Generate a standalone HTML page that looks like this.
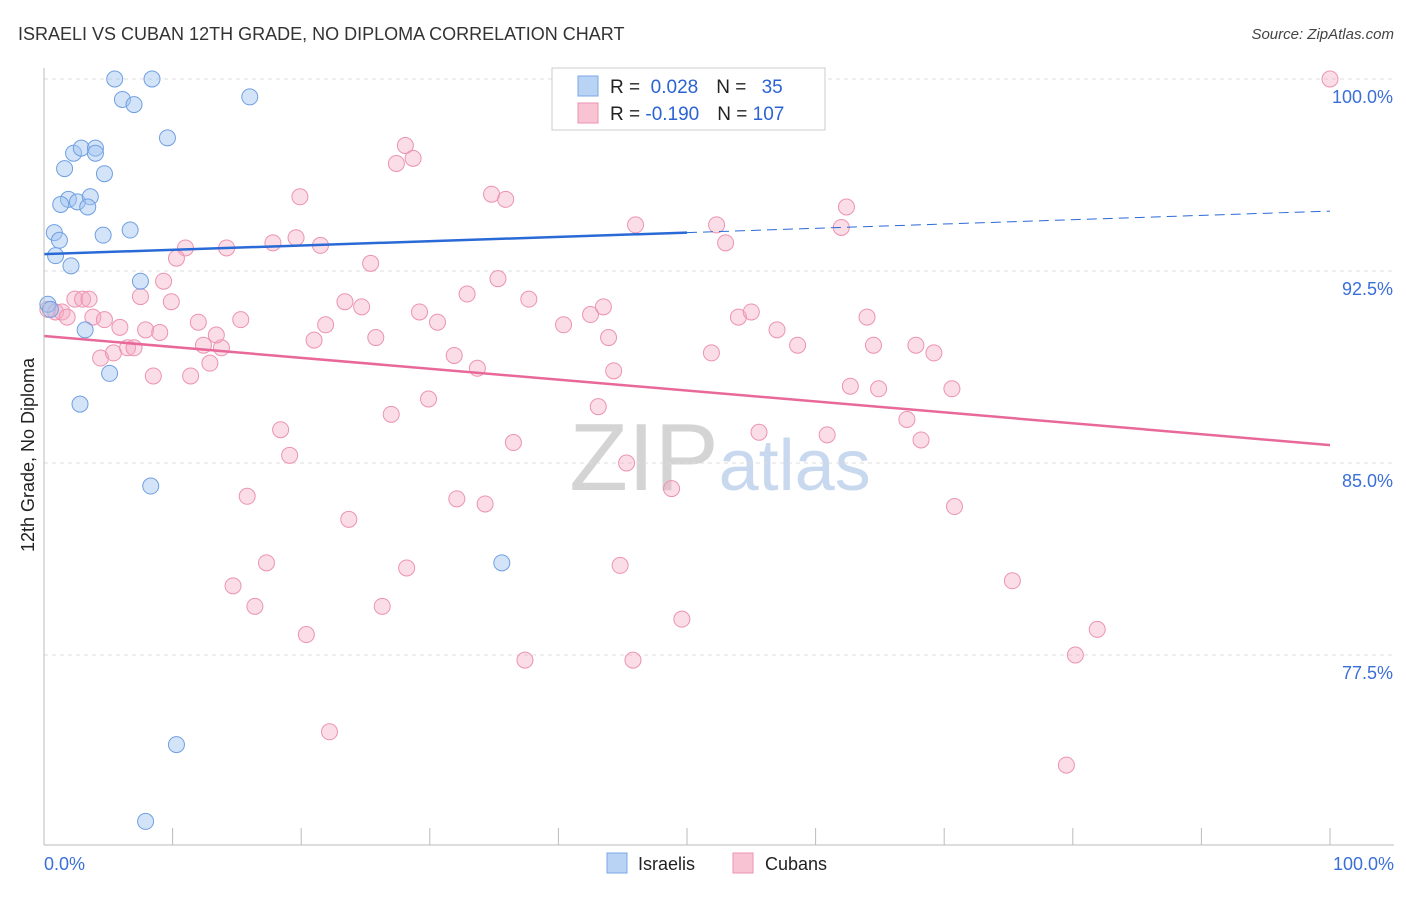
<!DOCTYPE html>
<html><head><meta charset="utf-8"><style>
body{margin:0;background:#fff;font-family:"Liberation Sans",sans-serif;}
svg text{font-family:"Liberation Sans",sans-serif;}
</style></head><body>
<svg id="chart" width="1406" height="892" xmlns="http://www.w3.org/2000/svg">
<text x="18" y="40" font-size="18" fill="#333">ISRAELI VS CUBAN 12TH GRADE, NO DIPLOMA CORRELATION CHART</text>
<text x="1394" y="39" font-size="15" fill="#444" text-anchor="end" font-style="italic">Source: ZipAtlas.com</text>
<text x="720" y="490" font-size="96" fill="#ddd" text-anchor="middle" font-family="Liberation Serif"><tspan fill="#d4d4d4">ZIP</tspan><tspan fill="#c8d8ee" font-family="Liberation Sans" font-size="72">atlas</tspan></text>
<text transform="translate(34,455) rotate(-90)" font-size="18" fill="#222" text-anchor="middle">12th Grade, No Diploma</text>
<g id="grid"></g><g id="ticks"></g><g id="pts"></g><g id="lines"></g>
<line x1="44" y1="68" x2="44" y2="845" stroke="#bbb"/>
<line x1="44" y1="845" x2="1394" y2="845" stroke="#bbb"/>
<text x="44" y="870" font-size="18" fill="#3a6fd8">0.0%</text>
<text x="1394" y="870" font-size="18" fill="#3a6fd8" text-anchor="end">100.0%</text>
<g>
<rect x="552" y="68" width="273" height="62" fill="#fff" stroke="#ccc"/>
<rect x="578" y="76" width="20" height="20" fill="#b9d3f5" stroke="#7aa7e8"/>
<rect x="578" y="103" width="20" height="20" fill="#f8c3d3" stroke="#ec93b0"/>
<text x="610" y="93" font-size="19" fill="#222">R = <tspan fill="#2c63d4">&#160;0.028</tspan><tspan dx="18">N = </tspan><tspan fill="#2c63d4" dx="10">35</tspan></text>
<text x="610" y="120" font-size="19" fill="#222">R = <tspan fill="#2c63d4">-0.190</tspan><tspan dx="18">N = </tspan><tspan fill="#2c63d4">107</tspan></text>
</g>
<g><rect x="607" y="853" width="20" height="20" fill="#b9d3f5" stroke="#7aa7e8"/><text x="638" y="870" font-size="18" fill="#222">Israelis</text></g>
<g><rect x="733" y="853" width="20" height="20" fill="#f8c3d3" stroke="#ec93b0"/><text x="765" y="870" font-size="18" fill="#222">Cubans</text></g>
</svg>
<script>
const yTicks=[100,92.5,85,77.5];
const yTickLabels=["100.0%","92.5%","85.0%","77.5%"];
const xTicks=[0,10,20,30,40,50,60,70,80,90,100];
const israeliX=[5.5,8.4,6.1,7.0,16.0,9.6,2.3,2.9,4.0,4.0,1.6,4.7,1.9,1.3,2.6,3.6,3.4,0.8,1.2,4.6,6.7,0.9,2.1,7.5,0.3,0.5,3.2,5.1,2.8,8.3,35.6,10.3,7.9,43.5,45.6];
const israeliY=[100,100,99.2,99.0,99.3,97.7,97.1,97.3,97.3,97.1,96.5,96.3,95.3,95.1,95.2,95.4,95.0,94.0,93.7,93.9,94.1,93.1,92.7,92.1,91.2,91.0,90.2,88.5,87.3,84.1,81.1,74.0,71.0,100,100];
const cubanX=[100,28.1,28.7,27.4,19.9,34.8,35.9,46.0,52.3,62.4,62.0,53.0,11.0,14.2,17.8,19.6,21.5,10.3,25.4,35.3,9.3,7.5,9.9,2.4,3.0,3.5,0.3,0.9,1.4,1.8,3.8,4.7,5.9,7.9,9.0,12.0,15.3,23.4,24.7,21.9,21.0,25.8,29.2,30.6,32.9,37.7,40.4,42.5,43.5,43.9,54.0,55.0,57.0,58.6,64.0,64.5,67.8,69.2,4.4,5.4,6.5,7.0,12.4,13.8,13.4,12.9,8.5,11.4,31.9,33.7,44.3,51.9,62.7,64.9,70.6,29.9,27.0,43.1,18.4,36.5,55.6,60.9,67.1,68.2,19.1,45.3,48.8,15.8,32.1,34.3,70.8,23.7,17.3,28.2,44.8,75.3,14.7,16.4,26.3,49.6,20.4,81.9,80.2,37.4,45.8,22.2,79.5];
const cubanY=[100,97.4,96.9,96.7,95.4,95.5,95.3,94.3,94.3,95.0,94.2,93.6,93.4,93.4,93.6,93.8,93.5,93.0,92.8,92.2,92.1,91.5,91.3,91.4,91.4,91.4,91.0,90.9,90.9,90.7,90.7,90.6,90.3,90.2,90.1,90.5,90.6,91.3,91.1,90.4,89.8,89.9,90.9,90.5,91.6,91.4,90.4,90.8,91.1,89.9,90.7,90.9,90.2,89.6,90.7,89.6,89.6,89.3,89.1,89.3,89.5,89.5,89.6,89.5,90.0,88.9,88.4,88.4,89.2,88.7,88.6,89.3,88.0,87.9,87.9,87.5,86.9,87.2,86.3,85.8,86.2,86.1,86.7,85.9,85.3,85.0,84.0,83.7,83.6,83.4,83.3,82.8,81.1,80.9,81.0,80.4,80.2,79.4,79.4,78.9,78.3,78.5,77.5,77.3,77.3,74.5,73.2];
const israeliTrend=[93.16,94.84];
const cubanTrend=[89.96,85.70];
const NS="http://www.w3.org/2000/svg";
const xS=v=>44+v*12.86;
const yS=v=>79+(100-v)*25.6;
function mk(t,a,p){const e=document.createElementNS(NS,t);for(const k in a)e.setAttribute(k,a[k]);p.appendChild(e);return e;}
const grid=document.getElementById('grid');
yTicks.forEach((t,i)=>{
 const l=mk('line',{x1:44,x2:1394,y1:yS(t),y2:yS(t),stroke:'#ddd','stroke-dasharray':'4,4'},grid);
 
 
 const tx=mk('text',{x:1393,y:yS(t)+24,'font-size':18,fill:'#3a6fd8','text-anchor':'end'},grid);
 tx.textContent=yTickLabels[i];
 
 
});
const tk=document.getElementById('ticks');
xTicks.forEach(t=>{
 const l=mk('line',{x1:xS(t),x2:xS(t),y1:828,y2:845,stroke:'#bbb'},tk);
 
 
});
const pts=document.getElementById('pts');
cubanX.forEach((x,i)=>{
 const c=mk('circle',{cx:xS(x),cy:yS(cubanY[i]),r:8,fill:'rgba(244,170,195,0.4)',stroke:'#ec93b0','stroke-width':1},pts);
 
 
});
israeliX.forEach((x,i)=>{
 const c=mk('circle',{cx:xS(x),cy:yS(israeliY[i]),r:8,fill:'rgba(160,195,240,0.45)',stroke:'#6f9fe2','stroke-width':1},pts);
 
 
});
const ln=document.getElementById('lines');
const by=v=>israeliTrend[0]+(israeliTrend[1]-israeliTrend[0])*v/100;
let a=mk('line',{x1:xS(0),y1:yS(by(0)),x2:xS(50),y2:yS(by(50)),stroke:'#2a6ad6','stroke-width':2.5},ln);


let b=mk('line',{x1:xS(50),y1:yS(by(50)),x2:xS(100),y2:yS(by(100)),stroke:'#2a6ad6','stroke-width':1,'stroke-dasharray':'10,6'},ln);


let c=mk('line',{x1:xS(0),y1:yS(cubanTrend[0]),x2:xS(100),y2:yS(cubanTrend[1]),stroke:'#e8689a','stroke-width':2.5},ln);


</script>
</body></html>
